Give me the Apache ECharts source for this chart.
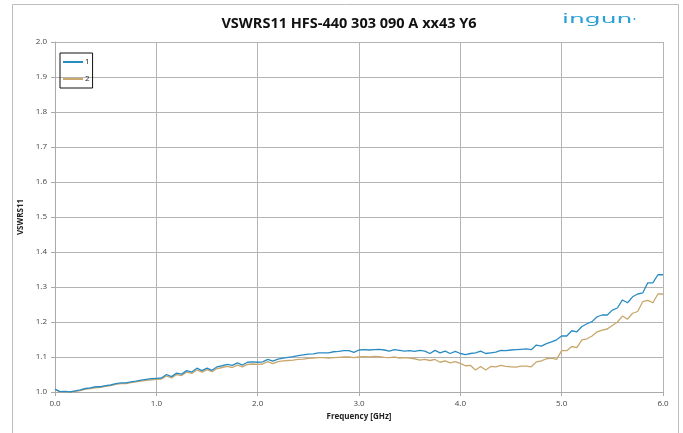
<!DOCTYPE html>
<html>
<head>
<meta charset="utf-8">
<script src="https://cdn.jsdelivr.net/npm/echarts@6/dist/echarts.min.js"></script>
<style>
html,body{margin:0;padding:0;background:#fff;}
#c{width:683px;height:433px;}
</style>
</head>
<body>
<div id="c"></div>
<script>
// Sweep: 0.00 to 6.00 GHz in 0.05 GHz steps
const freqStart = 0, freqStep = 0.05;
const seriesNames = ['1', '2'];
const trace1 = [
1.008,1.001,1.002,1.000,1.003,1.006,1.010,1.012,1.015,1.015,
1.018,1.020,1.024,1.026,1.026,1.029,1.031,1.034,1.036,1.038,
1.039,1.040,1.050,1.044,1.054,1.051,1.061,1.057,1.068,1.061,
1.068,1.062,1.072,1.075,1.079,1.076,1.083,1.077,1.085,1.086,
1.085,1.086,1.093,1.088,1.094,1.097,1.099,1.101,1.104,1.106,
1.108,1.109,1.112,1.112,1.112,1.115,1.116,1.118,1.118,1.113,
1.120,1.121,1.120,1.121,1.122,1.120,1.117,1.121,1.119,1.117,
1.118,1.116,1.119,1.117,1.110,1.119,1.112,1.117,1.110,1.116,
1.110,1.107,1.110,1.112,1.117,1.110,1.112,1.114,1.119,1.118,
1.120,1.121,1.122,1.123,1.121,1.134,1.131,1.138,1.143,1.149,
1.160,1.160,1.175,1.172,1.187,1.195,1.201,1.215,1.220,1.220,
1.234,1.240,1.263,1.255,1.272,1.280,1.283,1.312,1.312,1.335,
1.335];
const trace2 = [
1.008,1.000,1.001,1.000,1.002,1.004,1.008,1.010,1.012,1.013,
1.016,1.018,1.022,1.024,1.024,1.027,1.029,1.031,1.033,1.035,
1.036,1.037,1.046,1.040,1.050,1.047,1.057,1.053,1.063,1.057,
1.064,1.058,1.067,1.070,1.073,1.070,1.077,1.072,1.079,1.080,
1.079,1.080,1.087,1.081,1.087,1.089,1.090,1.091,1.093,1.094,
1.096,1.097,1.098,1.098,1.097,1.098,1.099,1.100,1.100,1.098,
1.100,1.101,1.100,1.102,1.101,1.099,1.098,1.100,1.097,1.098,
1.097,1.095,1.091,1.093,1.090,1.093,1.085,1.089,1.083,1.087,
1.082,1.075,1.076,1.063,1.073,1.063,1.073,1.072,1.076,1.073,
1.072,1.071,1.074,1.074,1.072,1.086,1.089,1.095,1.097,1.093,
1.118,1.118,1.130,1.127,1.149,1.152,1.160,1.172,1.177,1.180,
1.190,1.200,1.217,1.208,1.225,1.230,1.258,1.262,1.255,1.280,
1.280];
const titleText = 'VSWRS11 HFS-440 303 090 A xx43 Y6';
const xName = 'Frequency [GHz]';
const yName = 'VSWRS11';
const logoText = 'ingun';

function pairs(vals){
  return vals.map((v,i)=>[+(freqStart + i*freqStep).toFixed(2), v]);
}
const colors = ['#2a8bc3', '#c9a76c'];
const logoColor = '#2a9fd8';
const font = 'Open Sans, Liberation Sans, sans-serif';
const chart = echarts.init(document.getElementById('c'), null, {renderer:'canvas'});
chart.setOption({
  animation:false,
  backgroundColor:'#fff',
  title:{
    text:titleText, left:344, textAlign:'center', top:11,
    textStyle:{fontFamily:font, fontSize:14.5, fontWeight:'bold', color:'#111'}
  },
  graphic:[
    {type:'rect', shape:{x:12.5,y:4.5,width:666,height:440}, style:{fill:null, stroke:'#bdbdbd', lineWidth:1}, silent:true, z:-1},
    {type:'group', x:562, y:13.5, scaleX:2.0, scaleY:1, children:[
      {type:'text', x:0, y:0, style:{text:logoText, font:'normal 12.5px "DejaVu Sans", sans-serif', fill:logoColor}}
    ]},
    {type:'circle', shape:{cx:634.5, cy:19, r:0.9}, style:{fill:logoColor}}
  ],
  legend:{
    orient:'vertical', left:60, top:53, padding:[5,3,5,3],
    borderColor:'#111', borderWidth:1, itemGap:9,
    itemWidth:20, itemHeight:2, icon:'rect',
    textStyle:{fontFamily:font, fontSize:8, color:'#222', padding:[0,0,0,-3]},
    data:seriesNames
  },
  grid:{left:55, right:20, top:42, bottom:41},
  xAxis:{
    type:'value', min:0, max:6, interval:1,
    name:xName, nameLocation:'middle', nameGap:21,
    nameTextStyle:{fontFamily:font, fontSize:8, fontWeight:'bold', color:'#222'},
    axisLine:{show:true, lineStyle:{color:'#aaa'}},
    axisTick:{show:true, length:4, lineStyle:{color:'#aaa'}},
    axisLabel:{fontFamily:font, fontSize:8, color:'#444', margin:8, formatter:v=>v.toFixed(1)},
    splitLine:{show:true, lineStyle:{color:'#b4b4b4', width:1}}
  },
  yAxis:{
    type:'value', min:1, max:2, interval:0.1,
    name:yName, nameLocation:'middle', nameGap:25, nameRotate:90,
    nameTextStyle:{fontFamily:font, fontSize:8, fontWeight:'bold', color:'#222'},
    axisLine:{show:true, lineStyle:{color:'#aaa'}},
    axisTick:{show:true, length:4, lineStyle:{color:'#aaa'}},
    axisLabel:{fontFamily:font, fontSize:8, color:'#444', margin:8, formatter:v=>v.toFixed(1)},
    splitLine:{show:true, lineStyle:{color:'#b4b4b4', width:1}}
  },
  series:[
    {name:seriesNames[0], type:'line', data:pairs(trace1), showSymbol:false, symbol:'none',
     lineStyle:{color:colors[0], width:1.3}, itemStyle:{color:colors[0]}, z:3},
    {name:seriesNames[1], type:'line', data:pairs(trace2), showSymbol:false, symbol:'none',
     lineStyle:{color:colors[1], width:1.3}, itemStyle:{color:colors[1]}, z:2}
  ]
});
</script>
</body>
</html>
